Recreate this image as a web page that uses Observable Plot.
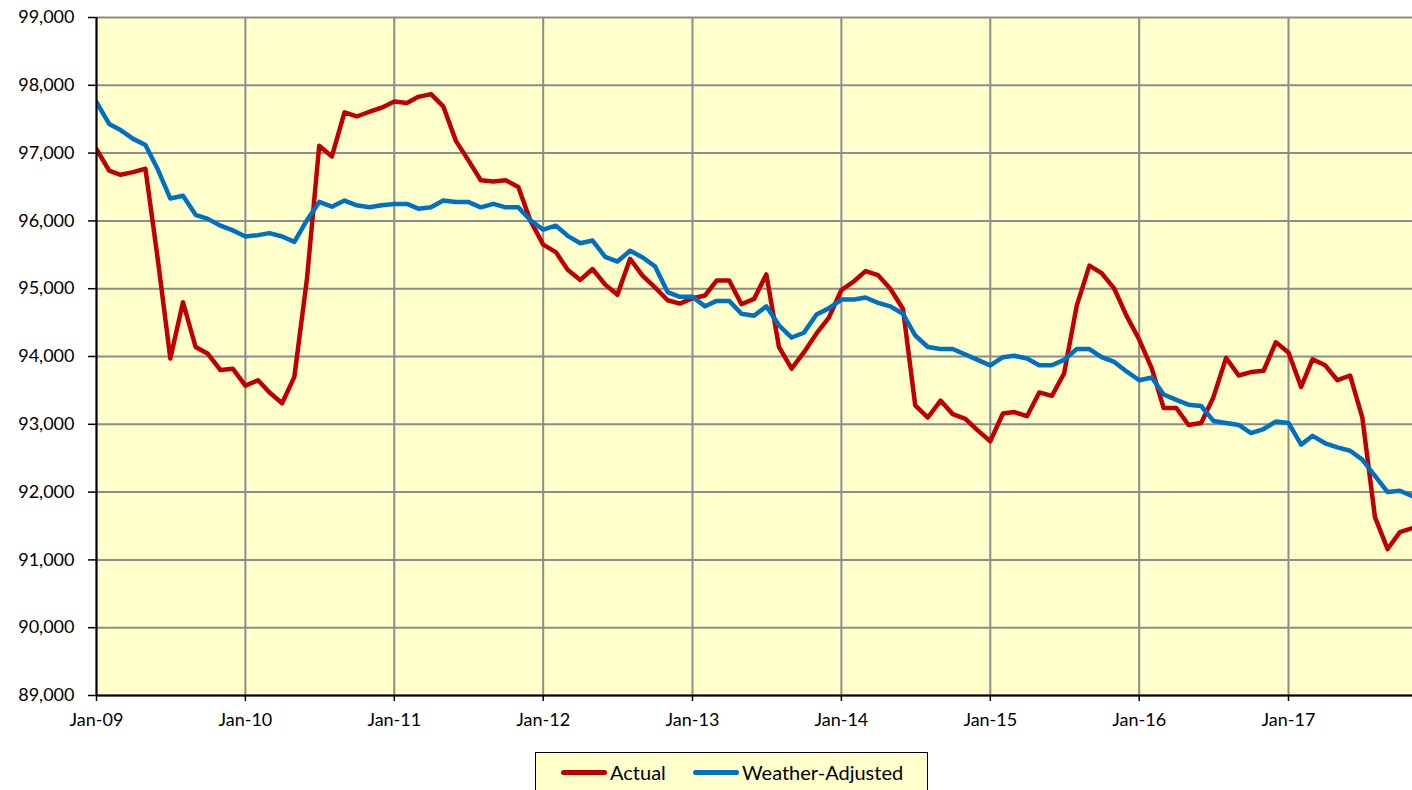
<!DOCTYPE html>
<html>
<head>
<meta charset="utf-8">
<script src="https://cdn.jsdelivr.net/npm/d3@7"></script>
<script src="https://cdn.jsdelivr.net/npm/@observablehq/plot@0.6"></script>
<style>
  html, body { margin: 0; padding: 0; background: #fff; }
  #chart svg { display: block; }
  .legend {
    position: absolute; left: 535px; top: 752px; width: 393px; height: 44px;
    background: #FFFFCC; border: 1.5px solid #000; box-sizing: border-box;
    font-family: Lato, "Open Sans", sans-serif; font-size: 20px; color: #000;
  }
  .legend .item { position: absolute; top: 7px; width: max-content; display: flex; align-items: center; white-space: nowrap; }
  .legend .sw { display: block; flex: 0 0 46px; width: 46px; min-width: 46px; height: 5px; border-radius: 3px; margin-right: 3px; }
</style>
</head>
<body>
<div id="chart"></div>
<script>
// Monthly values, Jan-09 .. Nov-17
const firstMonth = "2009-01";
const actual = [
  97060, 96740, 96680, 96720, 96770, 95400, 93970, 94800, 94140, 94040, 93800, 93820,
  93570, 93650, 93470, 93310, 93700, 95150, 97110, 96950, 97600, 97540, 97610, 97670,
  97760, 97740, 97830, 97870, 97690, 97180, 96900, 96600, 96580, 96600, 96500, 96000,
  95650, 95540, 95280, 95130, 95290, 95060, 94910, 95440, 95190, 95020, 94830, 94780,
  94860, 94900, 95120, 95120, 94770, 94850, 95210, 94140, 93820, 94060, 94340, 94570,
  94980, 95110, 95260, 95200, 95000, 94700, 93280, 93100, 93350, 93150, 93080, 92910,
  92750, 93160, 93180, 93120, 93470, 93420, 93750, 94750, 95340, 95230, 95000, 94600,
  94250, 93820, 93240, 93240, 92990, 93020, 93400, 93980, 93720, 93770, 93790, 94210,
  94060, 93550, 93960, 93870, 93650, 93720, 93100, 91630, 91160, 91410, 91470
];
const weatherAdjusted = [
  97750, 97430, 97340, 97210, 97120, 96750, 96330, 96370, 96090, 96030, 95930, 95860,
  95770, 95790, 95820, 95770, 95690, 96010, 96280, 96210, 96300, 96230, 96200, 96230,
  96250, 96250, 96180, 96200, 96300, 96280, 96280, 96200, 96250, 96200, 96200, 96010,
  95870, 95930, 95780, 95670, 95710, 95470, 95400, 95560, 95460, 95330, 94950, 94880,
  94880, 94740, 94820, 94820, 94630, 94600, 94740, 94460, 94280, 94350, 94620, 94710,
  94840, 94840, 94870, 94790, 94740, 94630, 94310, 94140, 94110, 94110, 94030, 93950,
  93870, 93990, 94010, 93970, 93870, 93870, 93950, 94110, 94110, 93990, 93920, 93780,
  93650, 93690, 93440, 93360, 93290, 93270, 93050, 93020, 92990, 92870, 92930, 93040,
  93020, 92700, 92830, 92720, 92660, 92610, 92480, 92240, 92000, 92020, 91940
];
const xTickLabels = ["Jan-09","Jan-10","Jan-11","Jan-12","Jan-13","Jan-14","Jan-15","Jan-16","Jan-17"];
const yTicks = [89000, 90000, 91000, 92000, 93000, 94000, 95000, 96000, 97000, 98000, 99000];
const seriesNames = ["Actual", "Weather-Adjusted"];
const seriesColors = ["#C00000", "#0070C0"];

const start = d3.utcParse("%Y-%m")(firstMonth);
const dates = actual.map((_, i) => d3.utcMonth.offset(start, i));
const rows = [];
dates.forEach((d, i) => {
  rows.push({date: d, value: actual[i], series: seriesNames[0]});
  rows.push({date: d, value: weatherAdjusted[i], series: seriesNames[1]});
});
const parseLbl = d3.utcParse("%b-%y");
const xTicks = xTickLabels.map(parseLbl);
const fmtX = d3.utcFormat("%b-%y");

const chart = Plot.plot({
  width: 1412,
  height: 745,
  marginLeft: 96,
  marginRight: 0,
  marginTop: 17,
  marginBottom: 50,
  style: {fontFamily: "Lato, 'Open Sans', sans-serif", fontSize: "18px", color: "#000", background: "#fff"},
  x: {type: "utc", domain: [start, dates[dates.length - 1]]},
  y: {domain: [89000, 99000]},
  color: {domain: seriesNames, range: seriesColors},
  marks: [
    Plot.frame({fill: "#FFFFCC", stroke: "none"}),
    Plot.gridX(xTicks, {stroke: "#8c8c8c", strokeOpacity: 1, strokeWidth: 2}),
    Plot.gridY(yTicks, {stroke: "#8c8c8c", strokeOpacity: 1, strokeWidth: 2}),
    Plot.axisX({ticks: xTicks, tickFormat: fmtX, tickSize: 6, tickPadding: 12, label: null, strokeWidth: 1.5, fontSize: 18}),
    Plot.axisY({ticks: yTicks, tickFormat: d3.format(","), tickSize: 8, tickPadding: 14, label: null, strokeWidth: 1.5, fontSize: 18}),
    Plot.line(rows, {x: "date", y: "value", z: "series", stroke: "series", strokeWidth: 4.5, strokeLinejoin: "round", clip: true}),
    Plot.ruleX([start], {stroke: "#000", strokeWidth: 2}),
    Plot.ruleY([89000], {stroke: "#000", strokeWidth: 2})
  ]
});
document.getElementById("chart").appendChild(chart);

const legend = document.createElement("div");
legend.className = "legend";
const lefts = [25, 157];
seriesNames.forEach((name, i) => {
  const item = document.createElement("div");
  item.className = "item";
  item.style.left = lefts[i] + "px";
  const sw = document.createElement("span");
  sw.className = "sw";
  sw.style.background = seriesColors[i];
  const t = document.createElement("span");
  t.textContent = name;
  item.appendChild(sw);
  item.appendChild(t);
  legend.appendChild(item);
});
document.body.appendChild(legend);
</script>
</body>
</html>
